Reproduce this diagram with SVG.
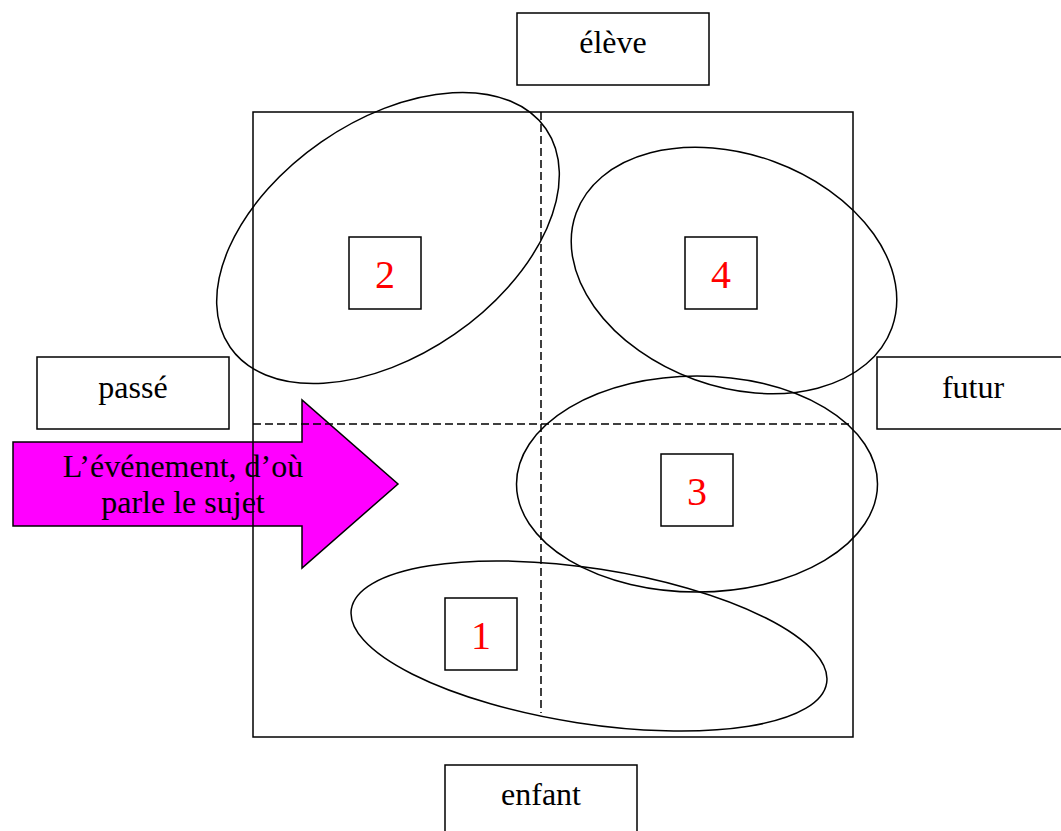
<svg xmlns="http://www.w3.org/2000/svg" width="1061" height="831" viewBox="0 0 1061 831">
<style>
.box{fill:#fff;stroke:#000;stroke-width:1.5}
.ln{fill:none;stroke:#000;stroke-width:1.5}
.dash{fill:none;stroke:#000;stroke-width:1.5;stroke-dasharray:8,4}
.lbl{font-family:"Liberation Serif","Times New Roman",serif;font-size:32px;fill:#000;text-anchor:middle}
.num{font-family:"Liberation Serif","Times New Roman",serif;font-size:40px;fill:#ff0000;text-anchor:middle}
</style>
<rect width="1061" height="831" fill="#fff"/>
<g id="arrow">
<polygon points="13,442 302,442 302,400 398,484 302,568 302,526 13,526" fill="#ff00ff" stroke="#000" stroke-width="1.5"/>
<text class="lbl" x="183" y="477">L’événement, d’où</text>
<text class="lbl" x="183" y="513">parle le sujet</text>
</g>
<g id="frame">
<rect class="ln" x="253" y="112" width="600" height="625"/>
</g>
<g id="connectors">
<line class="dash" x1="541" y1="112" x2="541" y2="713"/>
<line class="dash" x1="253" y1="424" x2="853" y2="424"/>
</g>
<g id="eleve"><rect class="box" x="517" y="13" width="192" height="72"/><text class="lbl" x="613" y="53">élève</text></g>
<g id="passe"><rect class="box" x="37" y="357" width="192" height="72"/><text class="lbl" x="133" y="398">passé</text></g>
<g id="futur"><rect class="box" x="877" y="357" width="192" height="72"/><text class="lbl" x="973" y="398">futur</text></g>
<g id="enfant"><rect class="box" x="445" y="765" width="192" height="72"/><text class="lbl" x="541" y="805">enfant</text></g>
<g id="n2"><rect class="box" x="349" y="237" width="72" height="72"/><text class="num" x="385" y="288">2</text></g>
<g id="n4"><rect class="box" x="685" y="237" width="72" height="72"/><text class="num" x="721" y="288">4</text></g>
<g id="n3"><rect class="box" x="661" y="454" width="72" height="72"/><text class="num" x="697" y="505">3</text></g>
<g id="n1"><rect class="box" x="445" y="598" width="72" height="72"/><text class="num" x="481" y="649">1</text></g>
<g id="ellipses">
<ellipse class="ln" cx="388" cy="238" rx="192" ry="117" transform="rotate(-34.7 388 238)"/>
<ellipse class="ln" cx="734" cy="270.5" rx="168" ry="116" transform="rotate(20 734 270.5)"/>
<ellipse class="ln" cx="697" cy="484" rx="180.5" ry="108"/>
<ellipse class="ln" cx="589" cy="646" rx="240.5" ry="77.6" transform="rotate(8.8 589 646)"/>
</g>
</svg>
